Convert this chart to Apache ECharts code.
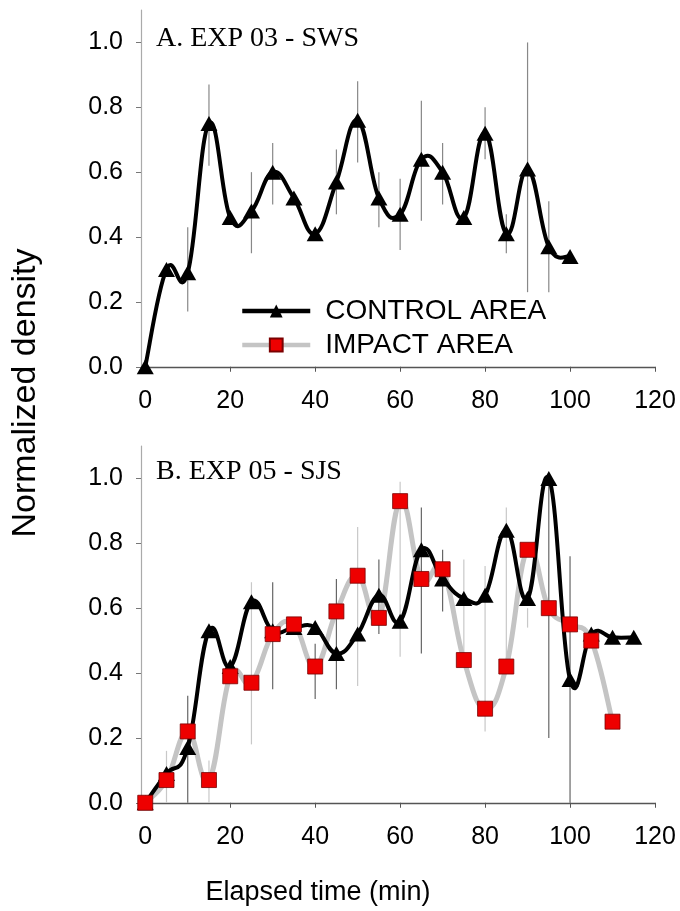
<!DOCTYPE html>
<html>
<head>
<meta charset="utf-8">
<script src="https://cdn.jsdelivr.net/npm/echarts@6/dist/echarts.min.js"></script>
<style>
  html, body { margin: 0; padding: 0; background: #fff; }
  #chart { width: 680px; height: 911px; }
</style>
</head>
<body>
<div id="chart"></div>
<script>
// ---- Data ----
const timesA = [0, 5, 10, 15, 20, 25, 30, 35, 40, 45, 50, 55, 60, 65, 70, 75, 80, 85, 90, 95, 100];
const controlA = [0.00, 0.30, 0.29, 0.75, 0.46, 0.48, 0.60, 0.52, 0.41, 0.57, 0.76, 0.52, 0.47, 0.64, 0.60, 0.46, 0.72, 0.41, 0.61, 0.37, 0.34];
const controlA_errLow  = [null, null, 0.17, 0.62, null, 0.35, 0.50, null, null, 0.47, 0.63, 0.43, 0.36, 0.45, 0.50, null, 0.64, 0.35, 0.23, 0.23, null];
const controlA_errHigh = [null, null, 0.43, 0.87, null, 0.60, 0.69, null, null, 0.67, 0.88, 0.60, 0.58, 0.82, 0.69, null, 0.80, 0.47, 1.00, 0.51, null];

const timesB = [0, 5, 10, 15, 20, 25, 30, 35, 40, 45, 50, 55, 60, 65, 70, 75, 80, 85, 90, 95, 100, 105, 110, 115];
const controlB = [0.00, 0.09, 0.17, 0.53, 0.42, 0.62, 0.53, 0.54, 0.54, 0.46, 0.52, 0.64, 0.56, 0.78, 0.69, 0.63, 0.64, 0.84, 0.63, 1.00, 0.38, 0.52, 0.51, 0.51];
const controlB_errLow  = [null, null, 0.00, null, null, null, 0.35, null, 0.32, 0.35, null, 0.52, null, 0.46, 0.59, null, null, null, null, 0.20, 0.00, null, null, null];
const controlB_errHigh = [null, null, 0.33, null, null, null, 0.68, null, 0.49, 0.69, null, 0.75, null, 0.91, 0.78, null, null, null, null, 0.99, 0.76, null, null, null];

const impactB = [0.00, 0.07, 0.22, 0.07, 0.39, 0.37, 0.52, 0.55, 0.42, 0.59, 0.70, 0.57, 0.93, 0.69, 0.72, 0.44, 0.29, 0.42, 0.78, 0.60, 0.55, 0.50, 0.25, null];
const impactB_errLow  = [null, 0.00, null, 0.00, null, 0.18, null, null, null, null, 0.36, null, 0.45, null, null, 0.42, 0.22, 0.42, 0.54, null, null, null, null, null];
const impactB_errHigh = [null, 0.16, null, 0.13, null, 0.68, null, null, null, null, 0.85, null, 0.99, null, null, 0.75, 0.73, 0.91, 0.60, null, null, null, null, null];

const xTicks = [0, 20, 40, 60, 80, 100, 120];
const yTicks = [0, 0.2, 0.4, 0.6, 0.8, 1.0];

const panelLabels = ['A. EXP 03 - SWS', 'B. EXP 05 - SJS'];
const seriesNames = ['CONTROL AREA', 'IMPACT AREA'];
const xTitle = 'Elapsed time (min)';
const yTitle = 'Normalized density';

// ---- Helpers ----
const SANS = 'Liberation Sans';
const SERIF = 'Liberation Serif';
const TENSION = 0.21;

function pairs(ts, vs) {
  const out = [];
  ts.forEach((t, i) => { if (vs[i] != null) out.push([t, vs[i]]); });
  return out;
}
function errData(ts, lo, hi) {
  const out = [];
  ts.forEach((t, i) => { if (lo[i] != null && hi[i] != null) out.push([t, lo[i], hi[i]]); });
  return out;
}
function errSeries(idx, data, color) {
  return {
    type: 'custom', xAxisIndex: idx, yAxisIndex: idx, data: data, z: 1, silent: true,
    encode: { x: 0, y: [1, 2] },
    renderItem: function (params, api) {
      const p1 = api.coord([api.value(0), api.value(1)]);
      const p2 = api.coord([api.value(0), api.value(2)]);
      return { type: 'line', shape: { x1: p1[0], y1: p1[1], x2: p2[0], y2: p2[1] },
               style: { stroke: color, lineWidth: 1.2 } };
    }
  };
}
// Smoothed curve (cardinal spline) through the data points, positioned with api.coord.
function curveSeries(idx, data, color, width, z) {
  return {
    type: 'custom', xAxisIndex: idx, yAxisIndex: idx, data: data, z: z, silent: true,
    encode: { x: 0, y: 1 },
    renderItem: function (params, api) {
      if (params.dataIndex !== 0) return null;
      const P = data.map(d => api.coord(d));
      const n = P.length;
      let d = 'M' + P[0][0] + ' ' + P[0][1];
      for (let i = 0; i < n - 1; i++) {
        const p0 = P[Math.max(i - 1, 0)], p1 = P[i], p2 = P[i + 1], p3 = P[Math.min(i + 2, n - 1)];
        const c1x = p1[0] + (p2[0] - p0[0]) * TENSION, c1y = p1[1] + (p2[1] - p0[1]) * TENSION;
        const c2x = p2[0] - (p3[0] - p1[0]) * TENSION, c2y = p2[1] - (p3[1] - p1[1]) * TENSION;
        d += ' C' + c1x + ' ' + c1y + ' ' + c2x + ' ' + c2y + ' ' + p2[0] + ' ' + p2[1];
      }
      return { type: 'path', shape: { pathData: d },
               style: { stroke: color, lineWidth: width, fill: 'none', lineJoin: 'round', lineCap: 'round' } };
    }
  };
}
function xAxisDef(idx) {
  return {
    type: 'value', gridIndex: idx, min: -1, max: 120,
    splitLine: { show: false },
    axisLine: { show: true, lineStyle: { color: '#555', width: 1.3 } },
    axisTick: { show: true, inside: false, length: 5, customValues: [20, 40, 60, 80, 100, 120], lineStyle: { color: '#555' } },
    axisLabel: { customValues: xTicks, margin: 19, fontSize: 25, fontFamily: SANS, color: '#000' }
  };
}
function yAxisDef(idx) {
  return {
    type: 'value', gridIndex: idx, min: -0.01, max: 1.1,
    splitLine: { show: false },
    axisLine: { show: true, onZero: false, lineStyle: { color: '#aaa', width: 1.2 } },
    axisTick: { show: true, inside: false, length: 5, customValues: yTicks, lineStyle: { color: '#777' } },
    axisLabel: { customValues: yTicks, margin: 18, fontSize: 25, fontFamily: SANS, color: '#000',
                 formatter: v => v.toFixed(1) }
  };
}
const ctrlMarks = (idx, data) => ({
  name: seriesNames[0], type: 'line', xAxisIndex: idx, yAxisIndex: idx, data: data,
  symbol: 'triangle', symbolSize: [17, 15], z: 5,
  lineStyle: { color: '#000', width: 4, opacity: 0 }, itemStyle: { color: '#000' }
});
const impMarks = (idx, data) => ({
  name: seriesNames[1], type: 'line', xAxisIndex: idx, yAxisIndex: idx, data: data,
  symbol: 'rect', symbolSize: 15, z: 6,
  lineStyle: { color: '#c4c4c4', width: 4, opacity: 0 },
  itemStyle: { color: '#ee0000', borderColor: '#7a0000', borderWidth: 0.8 }
});

const chart = echarts.init(document.getElementById('chart'), null, { renderer: 'canvas' });
chart.setOption({
  animation: false,
  backgroundColor: '#fff',
  grid: [
    { left: 141, right: 25, top: 10, height: 360 },
    { left: 141, right: 25, top: 446, height: 360 }
  ],
  xAxis: [xAxisDef(0), xAxisDef(1)],
  yAxis: [yAxisDef(0), yAxisDef(1)],
  legend: {
    data: seriesNames, orient: 'vertical', left: 240, top: 297, padding: 0,
    itemWidth: 68, itemHeight: 16, itemGap: 6,
    lineStyle: { opacity: 1, width: 4.5 },
    textStyle: { fontSize: 28, fontFamily: SANS, color: '#000', padding: [0, 0, 0, 10] }
  },
  graphic: [
    { type: 'text', left: 156, top: 25, style: { text: panelLabels[0], font: '28px "' + SERIF + '"', fill: '#000' } },
    { type: 'text', left: 156, top: 458, style: { text: panelLabels[1], font: '28px "' + SERIF + '"', fill: '#000' } },
    { type: 'text', x: 318, y: 893, style: { text: xTitle, font: '27px "' + SANS + '"', fill: '#000', align: 'center', verticalAlign: 'middle' } },
    { type: 'text', x: 26, y: 393, rotation: Math.PI / 2, style: { text: yTitle, font: '34px "' + SANS + '"', fill: '#000', align: 'center', verticalAlign: 'middle' } }
  ],
  series: [
    errSeries(0, errData(timesA, controlA_errLow, controlA_errHigh), '#888'),
    curveSeries(0, pairs(timesA, controlA), '#000', 4, 3),
    ctrlMarks(0, pairs(timesA, controlA)),
    errSeries(1, errData(timesB, controlB_errLow, controlB_errHigh), '#666'),
    errSeries(1, errData(timesB, impactB_errLow, impactB_errHigh), '#c8c8c8'),
    curveSeries(1, pairs(timesB, impactB), '#c4c4c4', 5, 2),
    curveSeries(1, pairs(timesB, controlB), '#000', 4, 3),
    ctrlMarks(1, pairs(timesB, controlB)),
    impMarks(1, pairs(timesB, impactB))
  ]
});
</script>
</body>
</html>
